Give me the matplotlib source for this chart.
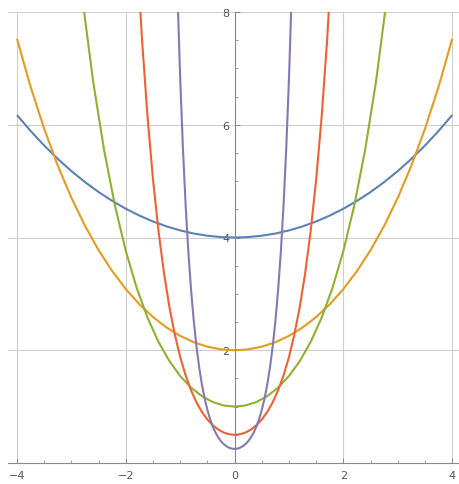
import numpy as np
import matplotlib.pyplot as plt

# half curves (x >= 0), mirrored below
x_blue = [0, 0.25, 0.5, 0.75, 1.0, 1.25, 1.5, 1.75, 2.0, 2.25, 2.5, 2.75, 3.0, 3.25, 3.5, 3.75, 4.0]
y_blue = [4.0, 4.0078, 4.0313, 4.0705, 4.1257, 4.1969, 4.2846, 4.389, 4.5105, 4.6497, 4.807,
          4.9831, 5.1787, 5.3946, 5.6315, 5.8904, 6.1723]

x_orange = [0, 0.25, 0.5, 0.75, 1.0, 1.25, 1.5, 1.75, 2.0, 2.25, 2.5, 2.75, 3.0, 3.25, 3.5, 3.75, 4.0]
y_orange = [2.0, 2.0156, 2.0628, 2.1423, 2.2553, 2.4035, 2.5894, 2.8157, 3.0862, 3.4049, 3.7768,
            4.2079, 4.7048, 5.2753, 5.9284, 6.6742, 7.5244]

x_green = [0, 0.2, 0.4, 0.6, 0.8, 1.0, 1.2, 1.4, 1.6, 1.8, 2.0, 2.2, 2.4, 2.6, 2.8]
y_green = [1.0, 1.0201, 1.0811, 1.1855, 1.3374, 1.5431, 1.8107, 2.1509, 2.5775, 3.1075, 3.7622,
           4.5679, 5.5569, 6.769, 8.2527]

x_red = [0, 0.1, 0.2, 0.3, 0.4, 0.5, 0.6, 0.7, 0.8, 0.9, 1.0, 1.1, 1.2, 1.3, 1.4, 1.5, 1.6, 1.7, 1.8]
y_red = [0.5, 0.51, 0.5405, 0.5927, 0.6687, 0.7715, 0.9053, 1.0755, 1.2887, 1.5537, 1.8811,
         2.284, 2.7785, 3.3845, 4.1264, 5.0338, 6.1383, 7.4875, 9.1564]

x_purple = [0, 0.05, 0.1, 0.15, 0.2, 0.25, 0.3, 0.35, 0.4, 0.45, 0.5, 0.55, 0.6, 0.65, 0.7,
            0.75, 0.8, 0.85, 0.9, 0.95, 1.0, 1.05]
y_purple = [0.25, 0.255, 0.2703, 0.2964, 0.3344, 0.3858, 0.4527, 0.5377, 0.6444, 0.7769, 0.9406,
            1.142, 1.3892, 1.6923, 2.0632, 2.5169, 3.0692, 3.7438, 4.5782, 5.5905, 6.8271, 8.3377]

series = [(x_blue, y_blue, '#5E81B5'),
          (x_orange, y_orange, '#E19C24'),
          (x_green, y_green, '#8FB032'),
          (x_red, y_red, '#EB6235'),
          (x_purple, y_purple, '#8778B3')]

fig = plt.figure(figsize=(4.59, 4.85), dpi=100)
ax = fig.add_axes([8/459, 21/485, 451/459, 451/485])

for xs, ys, c in series:
    xs = np.array(xs)
    ys = np.array(ys)
    xf = np.concatenate([-xs[::-1], xs[1:]])
    yf = np.concatenate([ys[::-1], ys[1:]])
    ax.plot(xf, yf, color=c, lw=1.5, solid_capstyle='butt')

ax.set_xlim(-4.165, 4.125)
ax.set_ylim(0, 8)

ax.spines['top'].set_visible(False)
ax.spines['right'].set_visible(False)
ax.spines['left'].set_position(('data', 0))
for s in ['left', 'bottom']:
    ax.spines[s].set_color('#8a8a8a')
    ax.spines[s].set_linewidth(0.8)

ax.set_xticks([-4, -2, 0, 2, 4])
ax.set_yticks([2, 4, 6, 8])
ax.set_xticks(np.arange(-4, 4.01, 0.5), minor=True)
ax.set_yticks(np.arange(0.5, 8.01, 0.5), minor=True)
ax.tick_params(which='both', direction='in', colors='#8a8a8a', labelcolor='#555555', labelsize=8)
ax.tick_params(which='major', length=3.5, width=0.7)
ax.tick_params(which='minor', length=2, width=0.6)
ax.tick_params(axis='x', pad=5)

ax.grid(True, which='major', color='#cfcfcf', lw=0.8)
ax.set_axisbelow(True)

plt.savefig('out.png', dpi=100)
